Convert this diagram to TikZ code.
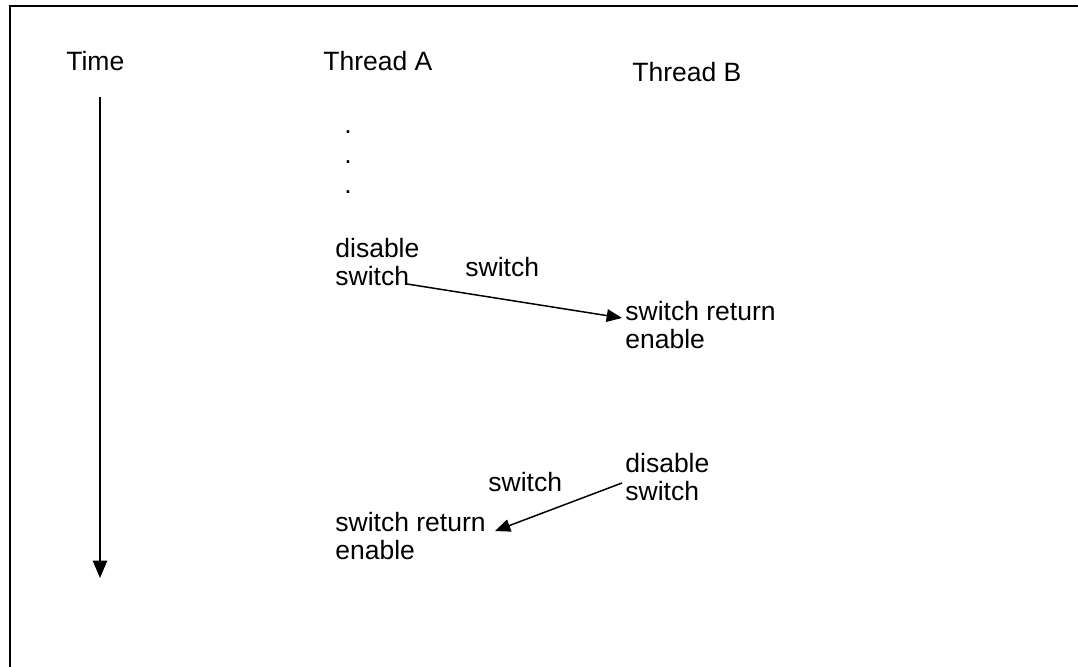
\documentclass[tikz,border=0pt]{standalone}
\usepackage{fontspec}
\setmainfont{Liberation Sans}
\usetikzlibrary{arrows}

\begin{document}
\begin{tikzpicture}[x=0.5pt, y=-0.5pt, font=\fontsize{13.25}{14}\selectfont]
		\tikzstyle{txt} = [inner sep=0pt, anchor=base west, align=left]
		\tikzstyle{frame} = [draw=black, line width=1pt]
		\tikzstyle{timearrow} = [->, >=triangle 45, line width=1pt]
		\tikzstyle{arrow} = [->, >=triangle 45, line width=0.75pt]
		%-------------------------------------------------------
		% page size and the outer frame (cut off at right and bottom)
		\useasboundingbox (0,0) rectangle (1078,667);
		\clip (0,0) rectangle (1078,667);
		\draw [frame] (10,6) rectangle (1100,700);
		
		% column heads
		\node (time) [txt] at (66,71) {Time};
		\node (threadA) [txt] at (323,71) {Thread A};
		\node (threadB) [txt] at (632,82) {Thread B};
		
		% time runs downwards
		\coordinate (tstart) at (100,97);
		\coordinate (tend) at (100,578);
		\draw [timearrow] (tstart) -- (tend);
		
		\node (dot1) [txt] at (344,134) {.};
		\node (dot2) [txt] at (344,164) {.};
		\node (dot3) [txt] at (344,194) {.};
		
		% A hands over to B (base = last line)
		\node (dis1) [txt] at (335,286) {disable\\switch};
		\node (sw1) [txt] at (465,277) {switch};
		\node (ret1) [txt] at (625,349) {switch return\\enable};
		
		% B hands back to A
		\node (dis2) [txt] at (625,501) {disable\\switch};
		\node (sw2) [txt] at (488,492) {switch};
		\node (ret2) [txt] at (335,560) {switch return\\enable};
		
		\draw [arrow] ([shift={(72,-2)}]dis1.base west) -- ([shift={(-3,-31)}]ret1.base west);
		\draw [arrow] ([shift={(-3,-18)}]dis2.base west) -- ([shift={(160,-29)}]ret2.base west);
\end{tikzpicture}
\end{document}
